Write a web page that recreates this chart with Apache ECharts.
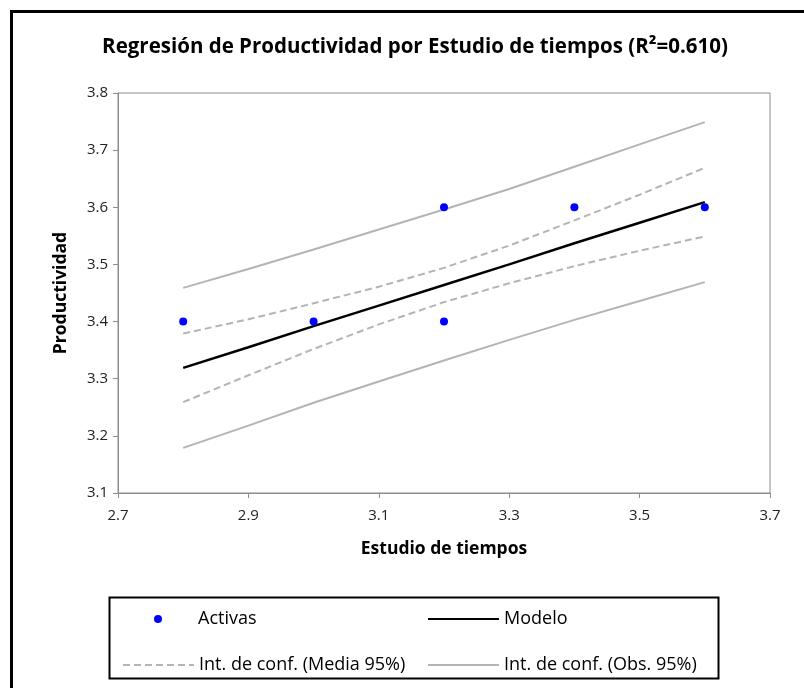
<!DOCTYPE html>
<html>
<head>
<meta charset="utf-8">
<script src="https://cdn.jsdelivr.net/npm/echarts@6/dist/echarts.min.js"></script>
<style>html,body{margin:0;padding:0;background:#fff}#c{width:804px;height:688px}</style>
</head>
<body>
<div id="c"></div>
<script>
// Observed points
const obsX = [2.8, 3.0, 3.2, 3.2, 3.4, 3.6];
const obsY = [3.4, 3.4, 3.6, 3.4, 3.6, 3.6];
// Curves sampled along x
const curveX = [2.8, 2.9, 3.0, 3.1, 3.2, 3.3, 3.4, 3.5, 3.6];
const modelY = [3.319, 3.355, 3.392, 3.428, 3.464, 3.500, 3.537, 3.573, 3.609];
const meanUpper = [3.379, 3.404, 3.432, 3.461, 3.494, 3.533, 3.577, 3.622, 3.669];
const meanLower = [3.259, 3.306, 3.352, 3.395, 3.434, 3.467, 3.497, 3.524, 3.549];
const obsUpper = [3.459, 3.492, 3.526, 3.561, 3.596, 3.632, 3.671, 3.710, 3.749];
const obsLower = [3.179, 3.218, 3.258, 3.295, 3.332, 3.368, 3.403, 3.436, 3.469];
const xTicks = [2.7, 2.9, 3.1, 3.3, 3.5, 3.7];
const yTicks = [3.1, 3.2, 3.3, 3.4, 3.5, 3.6, 3.7, 3.8];

const FONT = '"Open Sans", "Noto Sans", sans-serif';
const pair = (xs, ys) => xs.map((x, i) => [x, ys[i]]);
const grayC = '#b4b4b4';

const chart = echarts.init(document.getElementById('c'), null, {renderer: 'canvas'});
const legendBase = {
  orient: 'horizontal', itemWidth: 71, itemHeight: 12, itemGap: 0,
  textStyle: {fontFamily: FONT, fontSize: 18, color: '#000'},
  selectedMode: false
};
const hideSym = {opacity: 0, borderWidth: 0};
chart.setOption({
  animation: false,
  backgroundColor: '#fff',
  title: {
    text: 'Regresión de Productividad por Estudio de tiempos (R²=0.610)',
    left: 410, top: 32, textAlign: 'center',
    textStyle: {fontFamily: FONT, fontSize: 20.5, fontWeight: 'bold', color: '#000'}
  },
  grid: {left: 118, right: 34, top: 93, bottom: 195, show: true, borderColor: '#8c8c8c', borderWidth: 1},
  xAxis: {
    type: 'value', min: 2.7, max: 3.7, interval: 0.2,
    name: 'Estudio de tiempos', nameLocation: 'middle', nameGap: 47,
    nameTextStyle: {fontFamily: FONT, fontSize: 17.5, fontWeight: 'bold', color: '#000'},
    axisLine: {lineStyle: {color: '#8c8c8c'}},
    axisTick: {show: true, length: 5, lineStyle: {color: '#8c8c8c'}},
    axisLabel: {fontFamily: FONT, fontSize: 15, color: '#222', margin: 15,
      formatter: v => { const t = xTicks.find(a => Math.abs(a - v) < 1e-6); return t === undefined ? '' : t.toFixed(1); }},
    splitLine: {show: false}
  },
  yAxis: {
    type: 'value', min: 3.1, max: 3.8, interval: 0.1,
    name: 'Productividad', nameLocation: 'middle', nameGap: 48, nameRotate: 90,
    nameTextStyle: {fontFamily: FONT, fontSize: 17.5, fontWeight: 'bold', color: '#000'},
    axisLine: {show: true, lineStyle: {color: '#8c8c8c'}},
    axisTick: {show: true, length: 5, lineStyle: {color: '#8c8c8c'}},
    axisLabel: {fontFamily: FONT, fontSize: 15, color: '#222', margin: 10,
      formatter: v => { const t = yTicks.find(a => Math.abs(a - v) < 1e-6); return t === undefined ? '' : t.toFixed(1); }},
    splitLine: {show: false}
  },
  legend: [
    Object.assign({}, legendBase, {data: ['Activas'], left: 149, top: 605, itemWidth: 8, itemHeight: 8,
      textStyle: {fontFamily: FONT, fontSize: 18, color: '#000', padding: [0, 0, 0, 31]}}),
    Object.assign({}, legendBase, {data: [{name: 'Modelo', itemStyle: hideSym}], left: 422, top: 605}),
    Object.assign({}, legendBase, {data: [{name: 'Int. de conf. (Media 95%)', itemStyle: hideSym}], left: 117, top: 651}),
    Object.assign({}, legendBase, {data: [{name: 'Int. de conf. (Obs. 95%)', itemStyle: hideSym}], left: 422, top: 651})
  ],
  graphic: [
    {type: 'rect', left: 9, top: 9, shape: {width: 820, height: 700}, style: {fill: 'none', stroke: '#000', lineWidth: 3}, silent: true, z: 100},
    {type: 'rect', left: 107, top: 595, shape: {width: 609, height: 81}, style: {fill: 'none', stroke: '#000', lineWidth: 2}, silent: true, z: 100}
  ],
  series: [
    {name: 'Int. de conf. (Obs. 95%)', type: 'line', symbol: 'none', data: pair(curveX, obsUpper),
      lineStyle: {color: grayC, width: 2}, itemStyle: {color: grayC}, z: 2},
    {name: 'Int. de conf. (Obs. 95%)', type: 'line', symbol: 'none', data: pair(curveX, obsLower),
      lineStyle: {color: grayC, width: 2}, itemStyle: {color: grayC}, z: 2},
    {name: 'Int. de conf. (Media 95%)', type: 'line', symbol: 'none', data: pair(curveX, meanUpper),
      lineStyle: {color: grayC, width: 2, type: [7, 4]}, itemStyle: {color: grayC}, z: 2},
    {name: 'Int. de conf. (Media 95%)', type: 'line', symbol: 'none', data: pair(curveX, meanLower),
      lineStyle: {color: grayC, width: 2, type: [7, 4]}, itemStyle: {color: grayC}, z: 2},
    {name: 'Modelo', type: 'line', symbol: 'none', data: pair(curveX, modelY),
      lineStyle: {color: '#000', width: 2.5}, itemStyle: {color: '#000'}, z: 3},
    {name: 'Activas', type: 'scatter', symbol: 'circle', symbolSize: 8, data: pair(obsX, obsY),
      itemStyle: {color: '#0000ff', opacity: 1}, z: 4}
  ]
});
</script>
</body>
</html>
